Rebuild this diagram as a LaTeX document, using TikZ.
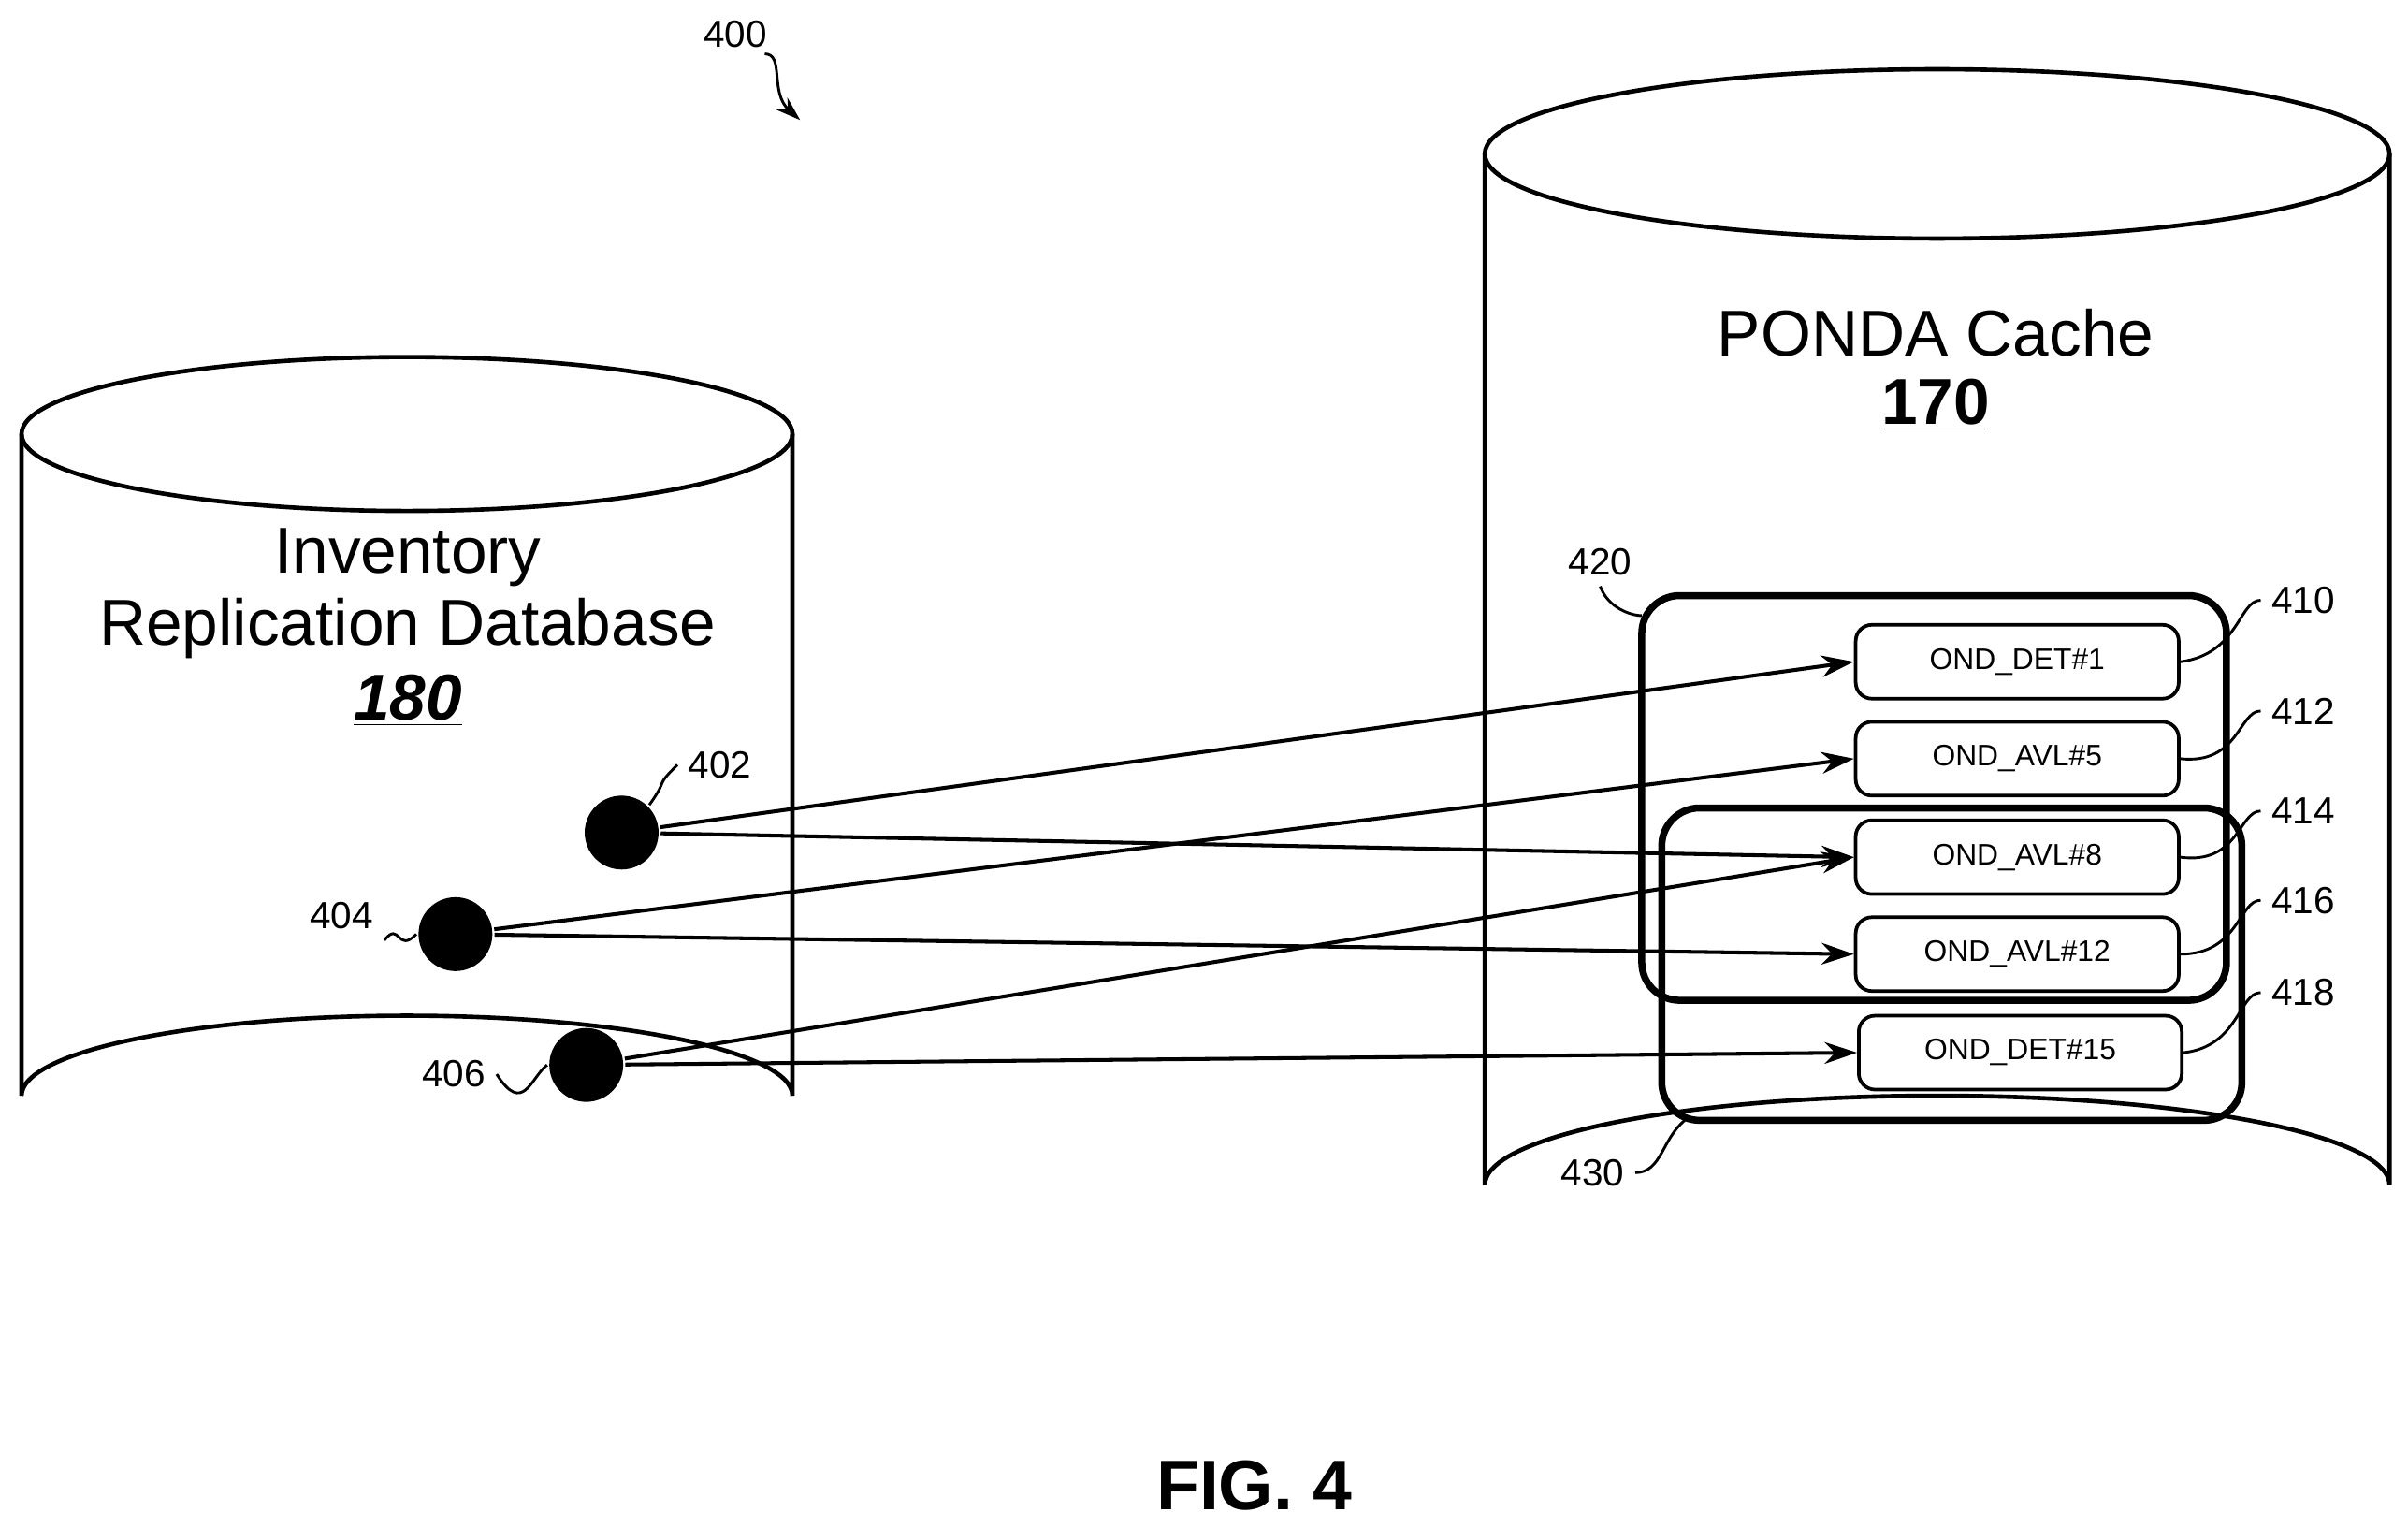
\documentclass[tikz,border=0pt]{standalone}
\usepackage{fontspec}
\setmainfont{Liberation Sans}
\usetikzlibrary{positioning,arrows.meta}
\begin{document}
\begin{tikzpicture}[x=0.02cm,y=-0.02cm,line width=1.6pt,
  rec/.style={draw,rounded corners=6pt,minimum width=4.2cm,minimum height=0.96cm,font=\fontsize{11}{13}\selectfont,line width=1.3pt},
  grp/.style={draw,rounded corners=14pt,line width=2.6pt},
  dot/.style={circle,fill=black,minimum size=0.96cm,inner sep=0pt},
  num/.style={font=\fontsize{14}{16}\selectfont},
  big/.style={font=\fontsize{24}{28}\selectfont},
  arr/.style={-{Stealth[length=12pt,width=8pt]},line width=1.4pt},
  lead/.style={line width=1pt}]
\useasboundingbox (0,0) rectangle (1565,992);
% cylinders
\draw (14,282) -- (14,712) arc[start angle=180,end angle=360,x radius=250.5,y radius=52] -- (515,282);
\draw (264.5,282) ellipse[x radius=250.5,y radius=50];
\draw (965,100) -- (965,770) arc[start angle=180,end angle=360,x radius=294,y radius=58] -- (1553,100);
\draw (1259,100) ellipse[x radius=294,y radius=55];
% titles
\node[big] at (265,362) {Inventory};
\node[big] at (265,408) {Replication Database};
\node[big] at (265,455) {\underline{\textbf{\textit{180}}}};
\node[big] at (1258,216) {PONDA Cache};
\node[big] at (1258,263) {\underline{\textbf{170}}};
% groups
\draw[grp] (1067,387) rectangle (1447,650);
\draw[grp] (1080,525) rectangle (1457,728);
% records
\node[rec] (r410) at (1311,430) {OND\_DET\#1};
\node[rec] (r412) at (1311,493) {OND\_AVL\#5};
\node[rec] (r414) at (1311,557) {OND\_AVL\#8};
\node[rec] (r416) at (1311,620) {OND\_AVL\#12};
\node[rec] (r418) at (1313,684) {OND\_DET\#15};
% points
\node[dot] (p402) at (404,541) {};
\node[dot] (p404) at (296,607) {};
\node[dot] (p406) at (381,692) {};
\draw[arr] (p402) -- (r410.west);
\draw[arr] (p402) -- (r414.west);
\draw[arr] (p404) -- (r412.west);
\draw[arr] (p404) -- (r416.west);
\draw[arr] (p406) -- (r414.west);
\draw[arr] (p406) -- (r418.west);
% reference numerals
\node[num] (n402) at (468,497) {402};
\node[num] (n404) at (222,595) {404};
\node[num] (n406) at (295,698) {406};
\draw[lead] (p402.north east) .. controls (435,505) and (425,512) .. (n402.west);
\draw[lead] (p404.west) .. controls (258,620) and (260,598) .. (n404.south east);
\draw[lead] (p406.west) .. controls (345,700) and (340,725) .. (n406.east);
\foreach \r/\y in {410/390,412/462,414/527,416/585,418/645}{
  \node[num] (n\r) at (1497,\y) {\r};
  \draw[lead] (r\r.east) .. controls (1455,\y+35) and (1455,\y) .. (n\r.west);
}
\node[num] (n420) at (1040,365) {420};
\draw[lead] (n420.south) .. controls (1045,395) and (1060,400) .. (1067,400);
\node[num] (n430) at (1035,762) {430};
\draw[lead] (n430.east) .. controls (1080,762) and (1080,740) .. (1095,728);
\node[num] (n400) at (478,22) {400};
\draw[lead,-{Stealth[length=9pt,width=6pt]}] (497,35) .. controls (510,35) and (500,60) .. (520,78);
\node[font=\fontsize{26}{30}\selectfont\bfseries] at (815,965) {FIG. 4};
\end{tikzpicture}
\end{document}
